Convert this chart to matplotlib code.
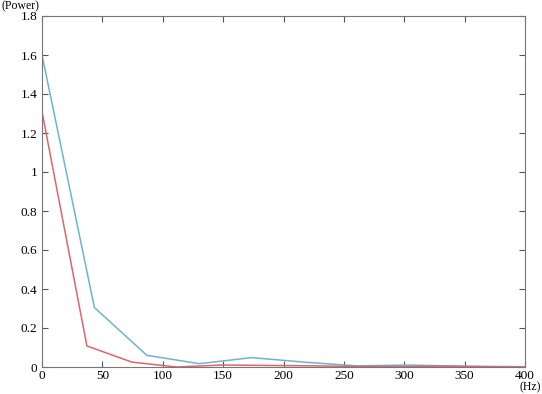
import numpy as np
import matplotlib.pyplot as plt

plt.rcParams['font.family'] = ['Liberation Serif', 'DejaVu Serif']

# blue trace
freq_b = [0, 43.4, 86.8, 130.2, 173.6, 217.0, 260.4, 303.8, 347.2, 390.6, 400]
pow_b = [1.6, 0.305, 0.06, 0.017, 0.048, 0.025, 0.006, 0.01, 0.004, 0.002, 0.0]

# red trace
freq_r = [0, 37.2, 74.4, 111.6, 148.8, 186.0, 223.2, 260.4, 297.6, 334.8, 372.0, 400]
pow_r = [1.31, 0.108, 0.025, 0.0, 0.01, 0.008, 0.006, 0.003, 0.002, 0.005, 0.001, 0.0]

fig = plt.figure(figsize=(5.42, 3.94), dpi=100)
ax = fig.add_axes([42/542, 27/394, 483/542, 351/394])
ax.plot(freq_b, pow_b, color='#6cb4d4', lw=1.1)
ax.plot(freq_r, pow_r, color='#e0646c', lw=1.1)
ax.set_xlim(0, 400)
ax.set_ylim(0, 1.8)
ax.set_xticks(np.arange(0, 401, 50))
ax.set_yticks([0, 0.2, 0.4, 0.6, 0.8, 1, 1.2, 1.4, 1.6, 1.8])
ax.set_yticklabels(['0', '0.2', '0.4', '0.6', '0.8', '1', '1.2', '1.4', '1.6', '1.8'])
ax.tick_params(direction='in', top=True, right=True, labelsize=9.5, length=4, color='#555555')
ax.tick_params(axis='x', pad=2)
for s in ax.spines.values():
    s.set_color('#777777')
fig.text(1/542, 1 - 0.5/394, '(Power)', fontsize=8.5, ha='left', va='top')
fig.text(541/542, 0.5/394, '(Hz)', fontsize=8.5, ha='right', va='bottom')
fig.savefig('out.png', dpi=100)
